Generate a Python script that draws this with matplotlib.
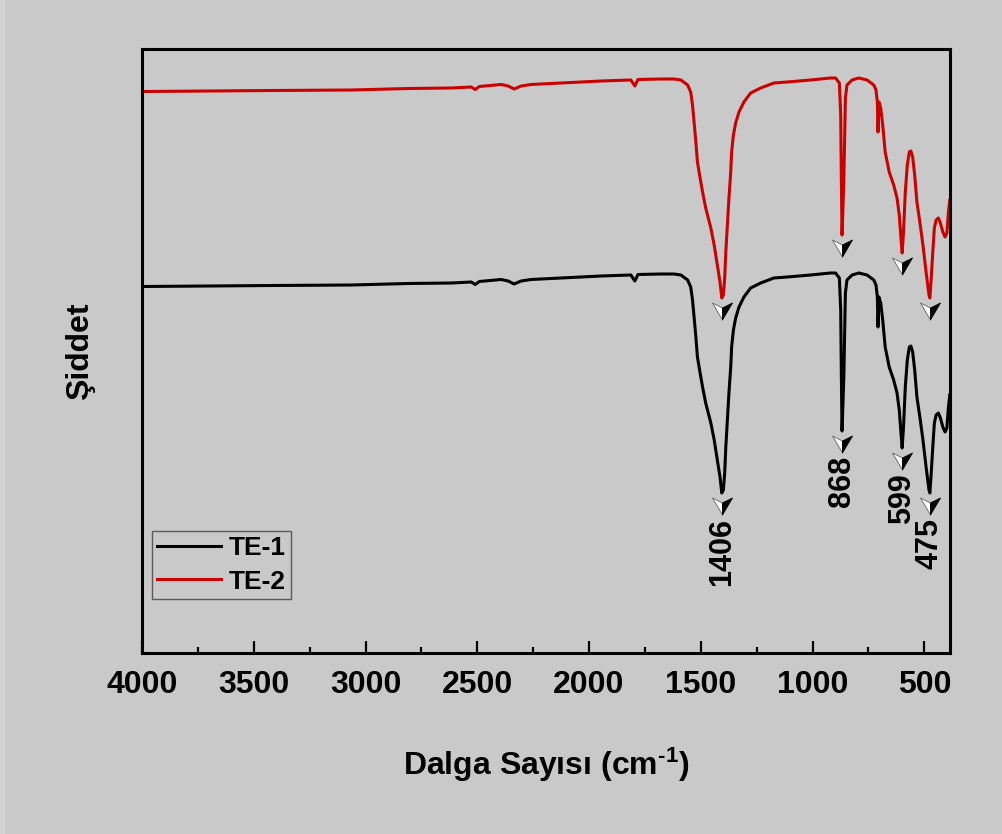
import matplotlib
matplotlib.use("Agg")
import matplotlib.pyplot as plt
import numpy as np
from matplotlib.path import Path
from matplotlib.patches import Rectangle

plt.rcParams['font.family'] = ['Liberation Sans', 'DejaVu Sans']
plt.rcParams['font.weight'] = 'bold'
plt.rcParams['mathtext.fontset'] = 'custom'
plt.rcParams['mathtext.rm'] = 'Liberation Sans:bold'
plt.rcParams['mathtext.default'] = 'rm'

# FTIR spectra, wavenumber (cm-1) and intensity (a.u.)
wavenumber = [4000, 3700, 3420, 3063, 2808, 2616, 2527, 2509, 2491, 2393,
              2362, 2335, 2304, 2259, 2170, 1946, 1813, 1795, 1781, 1679,
              1620, 1589, 1559, 1545, 1537, 1530, 1522, 1515, 1503, 1492,
              1478, 1455, 1440, 1426, 1414, 1406, 1399, 1393, 1388, 1381,
              1374, 1366, 1362, 1354, 1344, 1329, 1307, 1277, 1232, 1173,
              1113, 1009, 920, 897, 880, 874, 871, 868, 860, 853,
              846, 823, 793, 756, 726, 716, 710, 707, 703, 695,
              686, 675, 657, 637, 622, 612, 603, 599, 593, 585,
              576, 567, 560, 552, 543, 533, 518, 506, 492, 479,
              475, 469, 462, 455, 447, 437, 428, 417, 407, 399,
              392, 386]

te1 = [366.5, 367, 367.5, 368, 369.5, 370, 371, 368.5, 371.5, 373.5,
       372, 369, 372, 373.5, 374.5, 377, 378, 372, 378.5, 379,
       379, 378, 373, 366, 353, 336, 316, 296, 280, 266,
       250, 230, 213, 193, 176, 160, 163, 180, 206, 233,
       260, 286, 306, 323, 335, 346, 356, 365, 370, 375,
       376, 378, 380, 380, 375, 343, 276, 222, 276, 360,
       373, 378, 380, 378, 373, 368, 356, 326, 356, 350,
       333, 306, 286, 273, 260, 243, 216, 205, 226, 266,
       293, 306, 307, 301, 283, 256, 233, 213, 186, 163,
       160, 180, 206, 230, 238, 240, 235, 226, 221, 225,
       246, 258]

te2 = [561.5, 562, 562.5, 563, 564.5, 565, 566, 563.5, 566.5, 568.5,
       567, 564, 567, 568.5, 569.5, 572, 573, 567, 573.5, 574,
       574, 573, 568, 561, 548, 531, 511, 491, 475, 461,
       445, 425, 408, 388, 371, 355, 358, 375, 401, 428,
       455, 481, 501, 518, 530, 541, 551, 560, 565, 570,
       571, 573, 575, 575, 570, 538, 472, 418, 472, 555,
       568, 573, 575, 573, 568, 563, 551, 521, 551, 545,
       528, 501, 481, 468, 455, 438, 411, 400, 421, 461,
       488, 501, 502, 496, 478, 451, 428, 408, 381, 358,
       355, 375, 401, 425, 433, 435, 430, 421, 416, 420,
       441, 453]

peaks = [1406, 868, 599, 475]
series = [("TE-1", te1, "black"), ("TE-2", te2, "#cc0000")]

# two-tone arrowhead: light left half, black right half
head_left = Path([(0, 3.5), (-10, 8.5), (0, -8.5), (0, 3.5)],
                 [Path.MOVETO, Path.LINETO, Path.LINETO, Path.CLOSEPOLY])
head_right = Path([(0, 3.5), (10, 8.5), (0, -8.5), (0, 3.5)],
                  [Path.MOVETO, Path.LINETO, Path.LINETO, Path.CLOSEPOLY])

fig = plt.figure(figsize=(10.03, 8.34), dpi=100)
fig.patch.set_facecolor('#c9c9c9')
fig.patches.append(Rectangle((0, 0), 5 / 1003, 1, transform=fig.transFigure,
                             facecolor='#d2d2d2', edgecolor='none', zorder=0))
ax = fig.add_axes([142 / 1003, 1 - 653 / 834, 808 / 1003, 604 / 834])
ax.set_facecolor('#c9c9c9')

wn = np.array(wavenumber)
for name, vals, col in series:
    ax.plot(wn, vals, color=col, lw=2.2, label=name, zorder=2)

for name, vals, col in series:
    y_pk = np.interp(peaks, wn[::-1], np.array(vals)[::-1])
    ax.plot(peaks, y_pk - 13, ls='none', marker=head_left, ms=14.4,
            mfc='white', mec='#606060', mew=0.6, zorder=4)
    ax.plot(peaks, y_pk - 13, ls='none', marker=head_right, ms=14.4,
            mfc='black', mec='black', mew=0.6, zorder=4)
    if name == "TE-1":
        for p, y in zip(peaks, y_pk):
            ax.text(p, y - 25, str(p), rotation=90, ha='center', va='top',
                    fontsize=22, fontweight='bold')

ax.set_xlim(4000, 385)
ax.set_ylim(0, 604)
ax.set_xticks([4000, 3500, 3000, 2500, 2000, 1500, 1000, 500])
ax.set_xticks(np.arange(3750, 400, -500), minor=True)
ax.tick_params(axis='x', which='major', direction='in', length=8.6, width=1.6,
               labelsize=23, pad=12, top=False)
ax.tick_params(axis='x', which='minor', direction='in', length=4.5, width=1.6,
               top=False)
ax.tick_params(axis='y', left=False, labelleft=False)
for t in ax.get_xticklabels():
    t.set_fontweight('bold')
for s in ax.spines.values():
    s.set_linewidth(2.2)

ax.set_xlabel(r'Dalga Sayısı (cm$^{\text{-1}}$)', fontsize=23,
              fontweight='bold', labelpad=33)
ax.set_ylabel('Şiddet', fontsize=23, fontweight='bold', labelpad=34)

leg = ax.legend(loc='lower left', bbox_to_anchor=(10 / 808, 54 / 604),
                borderaxespad=0, fontsize=19, frameon=True, fancybox=False,
                handlelength=2.4, handletextpad=0.3, labelspacing=0.35,
                borderpad=0.2)
leg.get_frame().set_facecolor('none')
leg.get_frame().set_edgecolor('#404040')
leg.get_frame().set_linewidth(1.0)
for t in leg.get_texts():
    t.set_fontweight('bold')

fig.savefig('out.png', dpi=100, facecolor=fig.get_facecolor())
